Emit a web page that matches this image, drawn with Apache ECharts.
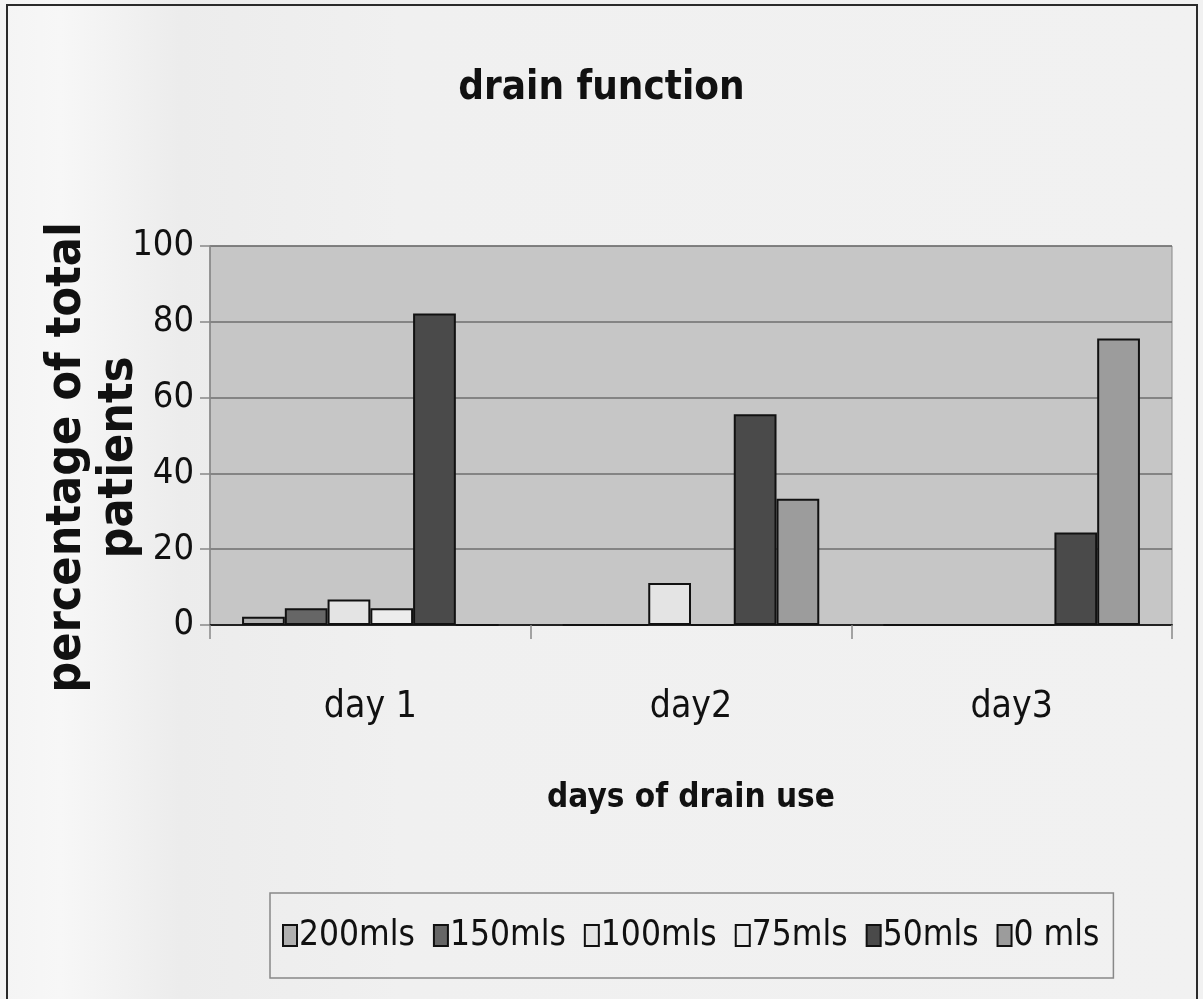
<!DOCTYPE html>
<html>
<head>
<meta charset="utf-8">
<script src="https://cdn.jsdelivr.net/npm/echarts@6/dist/echarts.min.js"></script>
<style>
html, body { margin: 0; padding: 0; }
#wrap { position: relative; width: 1203px; height: 999px; }
#chart {
  width: 1203px; height: 999px;
  background: linear-gradient(to right, #f4f4f4 0px, #f7f7f7 60px, #ececec 180px, #f0f0f0 400px, #f1f1f1 100%);
}
#frame {
  position: absolute; left: 6px; top: 4px; width: 1188px; height: 1000px;
  border: 2px solid #2a2a2a; border-bottom: none; pointer-events: none;
}
</style>
</head>
<body>
<div id="wrap">
  <div id="chart"></div>
  <div id="frame"></div>
</div>
<script>
// 数据
var days = ['day 1', 'day2', 'day3'];
var drainNames = ['200mls', '150mls', '100mls', '75mls', '50mls', '0 mls'];
var drainColors = ['#b0b0b0', '#666666', '#e4e4e4', '#ececec', '#4a4a4a', '#9c9c9c'];
var pct200 = [2.2, 0, 0];
var pct150 = [4.4, 0, 0];
var pct100 = [6.7, 11.1, 0];
var pct75 = [4.4, 0, 0];
var pct50 = [82.2, 55.6, 24.4];
var pct0 = [0, 33.3, 75.6];
var yTicks = [0, 20, 40, 60, 80, 100];

var narrow = '"Liberation Sans Narrow", "DejaVu Sans Condensed", "Liberation Sans", sans-serif';
var allValues = [pct200, pct150, pct100, pct75, pct50, pct0];

var myChart = echarts.init(document.getElementById('chart'));
myChart.setOption({
  title: {
    text: 'drain function',
    left: 'center',
    top: 64,
    textStyle: { fontFamily: narrow, fontSize: 40, fontWeight: 'bold', color: '#111' }
  },
  grid: { left: 210, right: 31, top: 246, bottom: 374, backgroundColor: '#c6c6c6', show: true, borderColor: '#888', borderWidth: 1 },
  legend: {
    data: drainNames,
    left: 270,
    top: 893,
    itemWidth: 14,
    itemHeight: 21,
    itemGap: 18,
    padding: [25, 14, 25, 12],
    borderColor: '#888',
    borderWidth: 1.5,
    icon: 'rect',
    textStyle: { fontFamily: narrow, fontSize: 35, color: '#111', padding: [0, 0, 0, -3] }
  },
  xAxis: {
    type: 'category',
    data: days,
    name: 'days of drain use',
    nameLocation: 'middle',
    nameGap: 157,
    nameTextStyle: { fontFamily: narrow, fontSize: 33, fontWeight: 'bold', color: '#111' },
    axisLine: { lineStyle: { color: '#222', width: 2 } },
    axisTick: { show: true, length: 14, lineStyle: { color: '#888', width: 1.5 } },
    axisLabel: { fontFamily: narrow, fontSize: 37, color: '#111', margin: 64 }
  },
  yAxis: {
    type: 'value',
    min: 0,
    max: 100,
    interval: 20,
    name: 'percentage of total\npatients',
    nameLocation: 'middle',
    nameMoveOverlap: false,
    nameGap: 64,
    nameTextStyle: { fontFamily: narrow, fontSize: 48, fontWeight: 'bold', color: '#111', lineHeight: 52, padding: [0, 44, 0, 0] },
    axisLine: { show: true, lineStyle: { color: '#888', width: 1.5 } },
    axisTick: { show: true, length: 10, lineStyle: { color: '#888', width: 1.5 } },
    axisLabel: {
      fontFamily: narrow, fontSize: 36, color: '#111', margin: 16,
      formatter: function (v) { return yTicks.indexOf(v) >= 0 ? String(v) : ''; }
    },
    splitLine: { lineStyle: { color: '#6e6e6e', width: 1.5 } }
  },
  series: drainNames.map(function (n, i) {
    return {
      name: n,
      type: 'bar',
      data: allValues[i],
      barGap: '0%',
      barCategoryGap: '20%',
      itemStyle: { color: drainColors[i], borderColor: '#111', borderWidth: 2 }
    };
  })
});
</script>
</body>
</html>
